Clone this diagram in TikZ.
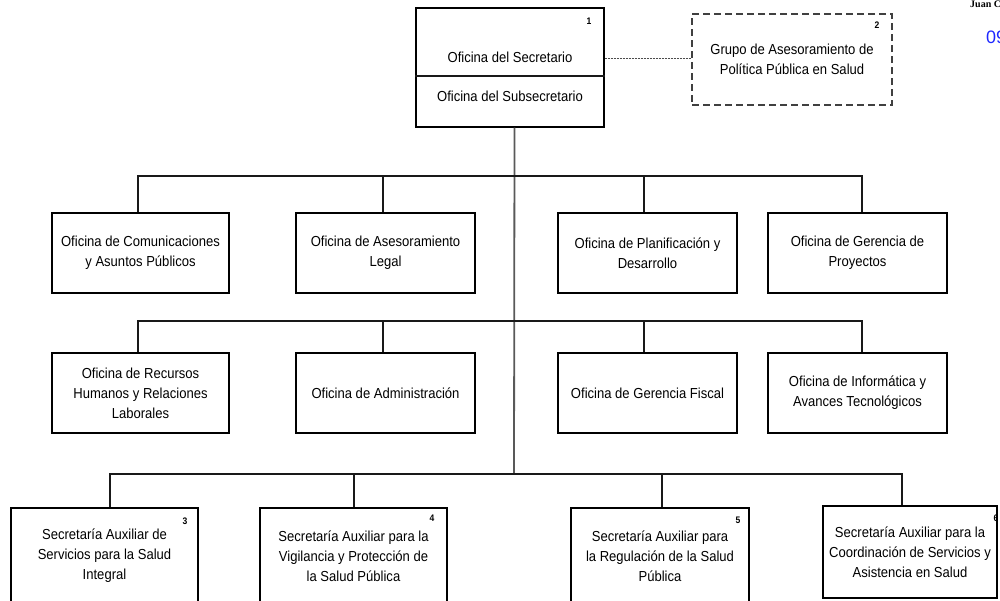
\documentclass[tikz,border=0pt]{standalone}
\usepackage{fontspec}
\setmainfont{Liberation Sans}[FakeStretch=0.9]
\newfontfamily\jcserif{Liberation Serif}
\newfontfamily\jcsans{Liberation Sans}
\begin{document}
\begin{tikzpicture}[x=1pt,y=-1pt,
  bx/.style={draw=black, line width=1.1pt, rectangle, inner sep=0pt, align=center,
    font=\fontsize{14.5}{20}\selectfont, text=black},
  dbx/.style={bx, draw=black!75, dash pattern=on 7pt off 4pt},
  lbl/.style={inner sep=0pt, align=center, font=\fontsize{14.5}{20}\selectfont, text=black},
  num/.style={inner sep=0pt, font=\fontsize{9.5}{9.5}\selectfont\bfseries, text=black},
  link/.style={draw=black!90, line width=1.1pt},
  trunkline/.style={draw=black!65, line width=1.8pt},
  dotlink/.style={draw=black!70, line width=0.9pt, dash pattern=on 2pt off 1pt}]
\useasboundingbox (0,0) rectangle (1000,600);

% top box
\node[bx, minimum width=188pt, minimum height=119pt] (top) at (510,67.5) {};
\draw[link] (top.west |- 0,76) -- (top.east |- 0,76);
\node[lbl] (sec) at (510,57) {Oficina del Secretario};
\node[lbl] (sub) at (510,96) {Oficina del Subsecretario};
\node[num] (n1) at (589,21) {1};

% advisory group
\node[dbx, minimum width=200pt, minimum height=91pt] (grp) at (792,59.5) {Grupo de Asesoramiento de\\Política Pública en Salud};
\node[num] (n2) at (877,25) {2};
\draw[dotlink] (top.east |- 0,58) -- (grp.west |- 0,58);

% row 1
\node[bx, minimum width=177pt, minimum height=80pt] (a1) at (140.5,253) {Oficina de Comunicaciones\\y Asuntos Públicos};
\node[bx, minimum width=179pt, minimum height=80pt] (a2) at (385.5,253) {Oficina de Asesoramiento\\Legal};
\node[bx, minimum width=179pt, minimum height=80pt] (a3) at (647.5,253) {Oficina de Planificación y\\Desarrollo};
\node[bx, minimum width=179pt, minimum height=80pt] (a4) at (857.5,253) {Oficina de Gerencia de\\Proyectos};

% row 2
\node[bx, minimum width=177pt, minimum height=80pt] (b1) at (140.5,393) {Oficina de Recursos\\Humanos y Relaciones\\Laborales};
\node[bx, minimum width=179pt, minimum height=80pt] (b2) at (385.5,393) {Oficina de Administración};
\node[bx, minimum width=179pt, minimum height=80pt] (b3) at (647.5,393) {Oficina de Gerencia Fiscal};
\node[bx, minimum width=179pt, minimum height=80pt] (b4) at (857.5,393) {Oficina de Informática y\\Avances Tecnológicos};

% row 3
\node[bx, minimum width=187pt, minimum height=96pt] (c1) at (104.5,556) {Secretaría Auxiliar de\\Servicios para la Salud\\Integral};
\node[bx, minimum width=187pt, minimum height=96pt] (c2) at (353.5,556) {Secretaría Auxiliar para la\\Vigilancia y Protección de\\la Salud Pública};
\node[bx, minimum width=178pt, minimum height=96pt] (c3) at (660,556) {Secretaría Auxiliar para\\la Regulación de la Salud\\Pública};
\node[bx, minimum width=174pt, minimum height=92pt] (c4) at (910,552) {Secretaría Auxiliar para la\\Coordinación de Servicios y\\Asistencia en Salud};
\node[num] (n3) at (185,521) {3};
\node[num] (n4) at (432,518) {4};
\node[num] (n5) at (738,520) {5};
\node[num] (n6) at (996,518) {6};

% junctions
\coordinate (j1) at (514,176);
\coordinate (j2) at (514,321);
\coordinate (j3) at (514,474);

\draw[trunkline] ([xshift=4.5pt]top.south) -- ([yshift=-0.5pt]j3);

\draw[link] (j1) -| ([xshift=-2.5pt]a1.north);
\draw[link] (j1) -| ([xshift=-2.5pt]a2.north);
\draw[link] (j1) -| ([xshift=-3.5pt]a3.north);
\draw[link] (j1) -| ([xshift=4.5pt]a4.north);

\draw[link] (j2) -| ([xshift=-2.5pt]b1.north);
\draw[link] (j2) -| ([xshift=-2.5pt]b2.north);
\draw[link] (j2) -| ([xshift=-3.5pt]b3.north);
\draw[link] (j2) -| ([xshift=4.5pt]b4.north);

\draw[link] (j3) -| ([xshift=5.5pt]c1.north);
\draw[link] (j3) -| ([xshift=0.5pt]c2.north);
\draw[link] (j3) -| ([xshift=2pt]c3.north);
\draw[link] (j3) -| ([xshift=-8pt]c4.north);

% header texts, cut at the right edge as in the reference
\node[inner sep=0pt, anchor=base west, font=\jcserif\bfseries\fontsize{10}{10}\selectfont] (hdr) at (970,7) {Juan C};
\node[inner sep=0pt, anchor=west, font=\jcsans\fontsize{18}{18}\selectfont, text={rgb,255:red,30;green,40;blue,255}] (date) at (986,37) {09};
\end{tikzpicture}
\end{document}
